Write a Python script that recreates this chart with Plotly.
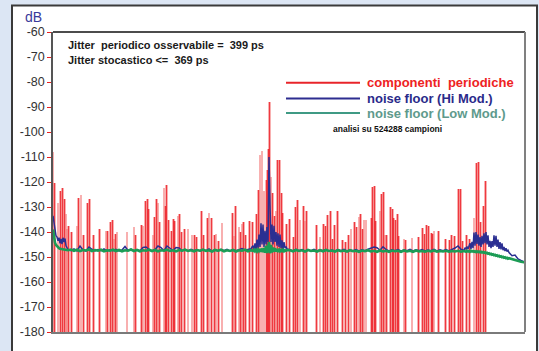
import plotly.graph_objects as go

# ---------------- data ----------------
y_tick_vals = [-60, -70, -80, -90, -100, -110, -120, -130, -140, -150, -160, -170, -180]
y_tick_labels = ["-60", "-70", "-80", "-90", "-100", "-110", "-120", "-130", "-140", "-150", "-160", "-170", "-180"]

# periodic components: frequency bin and level (dB)
comp_bins = [0.0, 1.7, 5.0, 7.3, 9.7, 11.7, 13.0, 14.0, 15.7, 18.3, 24.0, 25.7, 28.0, 30.7, 34.7, 36.7,
             40.7, 46.7, 53.0, 54.7, 57.7, 59.3, 61.0, 62.3, 64.0, 74.0, 81.0, 82.3, 88.3, 90.0, 92.7,
             94.7, 95.7, 100.0, 101.7, 103.3, 105.0, 106.3, 111.0, 112.3, 113.7, 115.7, 118.3, 120.3,
             121.7, 125.0, 126.7, 128.3, 131.3, 135.0, 139.0, 141.7, 143.5, 148.5,
             150.3, 154.3, 156.0, 158.7, 161.3, 163.0, 165.7, 169.0, 179.3, 181.0, 182.7, 186.0, 187.3,
             189.0, 190.7, 192.3, 196.3, 199.7, 203.7, 205.7, 207.0, 209.0, 211.0, 213.3, 214.3, 215.7,
             216.7, 218.0, 219.7, 221.7, 223.0, 224.7, 226.3, 228.3, 229.7, 233.7, 236.3, 240.3, 242.3,
             244.3, 247.0, 250.3, 252.0, 253.7, 263.7, 267.0, 270.3, 272.3, 274.3,
             277.7, 279.7, 281.3, 284.3, 289.7, 292.3, 295.3, 298.0, 301.3, 303.7, 306.0, 307.7, 309.7,
             311.0, 313.0, 318.7, 319.7, 321.7, 322.7, 327.0, 328.7, 330.3, 332.0, 333.7, 337.7, 339.3,
             340.7, 342.7, 344.3, 345.3, 351.0, 352.3, 359.0, 365.7, 369.3, 371.3, 373.7, 375.3, 378.3,
             379.7, 381.0, 385.7, 392.3, 396.3, 398.3, 401.3, 405.3, 407.3, 409.3, 413.7, 416.3, 421.0,
             423.3, 425.3, 427.5, 430.3, 432.7]
comp_levels = [-108.0, -120.5, -128.3, -123.7, -122.4, -126.9, -132.7, -138.6, -137.4, -140.0, -137.4,
               -126.3, -125.0, -141.3, -128.3, -126.7, -141.3, -138.6, -139.7, -139.4, -135.8, -135.0,
               -142.6, -140.7, -140.0, -140.0, -138.0, -141.3, -137.1, -137.4, -127.6, -126.7, -130.6,
               -141.3, -133.9, -126.7, -128.3, -136.1, -122.4, -129.6, -121.1, -135.0, -139.4, -134.8,
               -135.5, -133.5, -132.8, -140.0, -138.7, -138.7, -141.0, -141.3, -142.0, -131.5,
               -141.0, -134.2, -132.2, -134.2, -141.3, -140.7, -143.5, -136.5, -132.2, -141.7, -129.6,
               -138.0, -140.0, -136.7, -136.1, -141.3, -135.5, -136.1, -132.8, -123.1, -109.0, -107.7,
               -123.7, -119.2, -115.0, -106.8, -87.9, -117.9, -124.4, -133.5, -131.6, -111.1, -111.3,
               -124.4, -132.2, -136.7, -134.8, -142.0, -130.0, -127.2, -135.0, -129.6, -135.5, -131.6,
               -137.0, -142.0, -136.7, -137.7, -133.2,
               -131.6, -142.6, -137.1, -131.6, -143.3, -143.9, -141.3, -138.7, -136.1, -138.0, -133.9,
               -132.8, -138.7, -135.2, -135.2, -134.5, -121.8, -121.5, -135.5, -131.6, -124.6, -124.1,
               -141.3, -141.3, -130.0, -130.9, -134.2, -135.0, -132.6, -141.7, -142.9, -143.3, -142.3,
               -142.1, -138.2, -140.8, -137.1, -137.4, -140.4, -140.8, -139.5, -139.5, -142.9, -143.3,
               -141.3, -141.7, -122.8, -122.8, -143.4, -141.3, -142.6, -134.5, -112.4, -112.0, -136.0,
               -129.6, -119.4]

# noise floor sample bins
floor_bins = (list(range(0, 14)) + list(range(15, 199, 3)) + list(range(199, 235))
              + list(range(237, 412, 3)) + list(range(412, 457)) + [459, 462, 465, 468, 471, 472])

hi_mod_floor = [
    # bins 0-13
    -133.5, -137.0, -140.5, -141.5, -142.0, -143.5, -142.3, -144.5, -142.8, -144.8, -142.3, -144.0, -142.6, -145.5,
    # bins 15-198 step 3
    -147.0, -147.5, -146.8, -147.6, -145.6, -147.2, -147.6, -146.0, -146.9, -147.6,
    -147.0, -147.5, -146.8, -147.6, -147.1, -147.5, -146.9, -147.6, -147.2, -145.8,
    -147.4, -146.9, -147.6, -147.1, -147.5, -146.2, -146.0, -147.0, -147.6, -147.1,
    -145.6, -146.2, -147.5, -145.6, -146.5, -147.4, -146.2, -146.4, -147.5, -147.0,
    -147.6, -146.9, -147.5, -147.1, -147.6, -147.0, -147.5, -146.8, -147.6, -147.2,
    -147.6, -147.0, -147.5, -146.9, -147.6, -147.1, -147.5, -146.9, -146.6, -147.3,
    -146.9, -146.7,
    # bins 199-234
    -146.0, -145.5, -147.0, -144.5, -147.0, -143.0, -146.5, -141.0, -146.0, -136.5,
    -145.0, -137.0, -146.0, -139.5, -145.0, -138.0, -144.0, -110.0, -129.0, -144.0,
    -137.0, -145.0, -137.5, -144.0, -140.0, -145.5, -140.5, -146.0, -141.0, -146.5,
    -143.3, -147.0, -144.0, -146.5, -145.8, -146.8,
    # bins 237-411 step 3
    -147.1, -147.6, -146.9, -147.5, -147.0, -147.6, -147.2, -147.5, -146.9, -147.6,
    -147.1, -147.5, -147.0, -147.6, -147.2, -147.6, -147.0, -147.5, -146.9, -147.6,
    -147.2, -147.5, -147.0, -147.6, -147.1, -147.5, -146.9, -146.5, -146.0, -146.3,
    -147.3, -145.9, -147.0, -147.6, -147.1, -147.5, -147.0, -147.6, -147.2, -147.5,
    -146.9, -147.6, -147.1, -147.5, -147.0, -147.6, -147.2, -147.5, -146.9, -147.6,
    -147.1, -147.5, -147.0, -147.6, -147.1, -146.4, -145.6, -146.9, -147.4,
    # bins 412-456
    -146.3, -146.9, -145.8, -146.8, -145.5, -144.5, -146.8, -143.9, -146.5, -140.2,
    -145.5, -140.0, -144.8, -141.0, -145.5, -142.0, -146.0, -141.5, -145.0, -140.5,
    -144.5, -140.0, -145.0, -141.3, -146.0, -143.5, -146.5, -143.6, -146.0, -141.3,
    -145.5, -141.5, -146.0, -143.0, -146.8, -144.0, -147.0, -144.5, -147.3, -146.0,
    -147.6, -146.5, -147.8, -147.3, -148.2,
    # tail
    -149.5, -149.2, -150.8, -151.4, -152.0, -152.1]

low_mod_floor = [
    -139.0, -142.5, -144.3, -145.2, -145.8, -146.2, -146.5, -146.7, -146.8, -147.0, -146.9, -147.1, -147.0, -147.2,
    -147.3, -147.0, -147.5, -147.1, -147.6, -147.2, -147.4, -147.0, -147.6, -147.2,
    -147.5, -147.1, -147.7, -147.3, -147.5, -147.1, -147.6, -147.2, -147.7, -147.3,
    -147.5, -147.0, -147.6, -147.2, -147.7, -147.3, -147.5, -147.1, -147.6, -147.2,
    -147.7, -147.3, -147.5, -147.1, -147.6, -147.3, -147.7, -147.2, -147.5, -147.1,
    -147.6, -147.3, -147.7, -147.2, -147.5, -147.1, -147.6, -147.3, -147.8, -147.2,
    -147.5, -147.1, -147.7, -147.3, -147.6, -147.2, -147.8, -147.3, -147.5, -147.1,
    -147.7, -147.3,
    -147.3, -147.6, -147.1, -147.7, -147.2, -147.8, -147.0, -147.6, -146.8, -147.9,
    -146.6, -148.1, -146.4, -148.3, -145.5, -148.4, -146.0, -144.0, -148.5, -145.2,
    -148.2, -146.2, -147.9, -146.5, -147.8, -146.9, -147.6, -147.1, -147.7, -147.2,
    -147.6, -147.1, -147.7, -147.3, -147.5, -147.2,
    -147.3, -147.7, -147.2, -147.6, -147.3, -147.8, -147.2, -147.6, -147.4, -147.8,
    -147.3, -147.7, -147.2, -147.6, -147.4, -147.8, -147.3, -147.7, -147.4, -147.8,
    -147.3, -147.7, -147.5, -147.9, -147.4, -147.7, -147.3, -147.8, -147.5, -147.9,
    -147.4, -147.8, -147.5, -147.9, -147.4, -147.7, -147.5, -147.9, -147.4, -147.8,
    -147.5, -147.9, -147.4, -147.8, -147.6, -147.9, -147.5, -147.8, -147.4, -147.9,
    -147.6, -147.8, -147.5, -147.9, -147.6, -147.8, -147.5, -147.9, -147.6,
    -147.6, -147.9, -147.5, -147.8, -147.6, -147.9, -147.5, -147.8, -147.6, -147.9,
    -147.7, -148.0, -147.7, -148.0, -147.8, -148.1, -147.9, -148.2, -148.0, -148.3,
    -148.1, -148.5, -148.3, -148.7, -148.5, -148.9, -148.7, -149.1, -148.9, -149.3,
    -149.1, -149.5, -149.3, -149.7, -149.5, -149.9, -149.7, -150.1, -149.9, -150.3,
    -150.1, -150.5, -150.3, -150.7, -150.5,
    -150.9, -151.3, -151.6, -151.9, -152.1, -152.2]

legend_labels = ["componenti  periodiche", "noise floor (Hi Mod.)", "noise floor (Low Mod.)"]
info_lines = ["Jitter  periodico osservabile =  399 ps", "Jitter stocastico <=  369 ps"]
samples_note = "analisi su 524288 campioni"
unit_label = "dB"

# ---------------- figure ----------------
W, H = 539, 351
L, R, T, B = 53, 525, 32, 339
Y_BOTTOM = -180


def px(x):
    return (x - L) / (R - L)


def py(y):
    return (B - y) / (B - T)


fig = go.Figure()

heights = [v - Y_BOTTOM for v in comp_levels]
fig.add_trace(go.Bar(x=comp_bins, y=heights, base=Y_BOTTOM, width=2.7,
                     marker=dict(color="rgba(242,112,112,0.55)", line=dict(width=0)),
                     showlegend=False, hoverinfo="skip"))
fig.add_trace(go.Bar(x=comp_bins, y=heights, base=Y_BOTTOM, width=0.9,
                     marker=dict(color="rgba(236,28,36,0.8)", line=dict(width=0)),
                     showlegend=False, hoverinfo="skip"))
fig.add_trace(go.Scatter(x=floor_bins, y=hi_mod_floor, mode="lines",
                         line=dict(color="#2b2f92", width=1.5), showlegend=False, hoverinfo="skip"))
fig.add_trace(go.Scatter(x=floor_bins, y=low_mod_floor, mode="lines",
                         line=dict(color="#1c9c55", width=2.6), showlegend=False, hoverinfo="skip"))

shapes = [
    # outer white panel
    dict(type="rect", xref="paper", yref="paper", x0=px(12), x1=px(537), y0=py(370), y1=py(5),
         fillcolor="white", line=dict(color="#3a3a3a", width=2), layer="below"),
    # top frame line
    dict(type="line", xref="paper", yref="paper", x0=0, x1=1, y0=1, y1=1,
         line=dict(color="#111111", width=1.5)),
    # right frame line
    dict(type="line", xref="paper", yref="paper", x0=1, x1=1, y0=0, y1=1,
         line=dict(color="#808080", width=2)),
]
legend_colors = ["#e8242a", "#2d2d90", "#3f9a84"]
text_colors = ["#ee2222", "#2a2a8a", "#5e9a8c"]
legend_y = [84, 100, 115]
for c, yy in zip(legend_colors, legend_y):
    shapes.append(dict(type="line", xref="paper", yref="paper", x0=px(286), x1=px(360),
                       y0=py(yy), y1=py(yy), line=dict(color=c, width=2)))

annotations = []
for txt, c, yy in zip(legend_labels, text_colors, legend_y):
    annotations.append(dict(xref="paper", yref="paper", x=px(365), y=py(yy), xanchor="left",
                            yanchor="middle", showarrow=False,
                            text="<b>" + txt.replace("  ", " \u00a0") + "</b>",
                            font=dict(size=13, color=c)))
for txt, yy in zip(info_lines, [45, 61]):
    annotations.append(dict(xref="paper", yref="paper", x=px(66), y=py(yy), xanchor="left",
                            yanchor="middle", showarrow=False,
                            text="<b>" + txt.replace("  ", " \u00a0") + "</b>",
                            font=dict(size=11, color="#1a1a1a")))
annotations.append(dict(xref="paper", yref="paper", x=px(331), y=py(131), xanchor="left",
                        yanchor="middle", showarrow=False, text="<b>" + samples_note + "</b>",
                        font=dict(size=8.5, color="#111111")))
annotations.append(dict(xref="paper", yref="paper", x=px(33), y=py(17), xanchor="center",
                        yanchor="middle", showarrow=False, text=unit_label,
                        font=dict(size=14, color="#3a3a9a")))

fig.update_layout(
    width=W, height=H, autosize=False,
    margin=dict(l=L, r=W - R, t=T, b=H - B, pad=0),
    paper_bgcolor="#dce6f4", plot_bgcolor="rgba(0,0,0,0)",
    font=dict(family="Liberation Sans, Arial, sans-serif", color="#333333"),
    barmode="overlay", bargap=0,
    shapes=shapes, annotations=annotations,
    xaxis=dict(range=[0, R - L], showgrid=False, zeroline=False, showticklabels=False,
               ticks="", showline=True, linecolor="#7a7a7a", linewidth=2, fixedrange=True),
    yaxis=dict(range=[-180, -60], tickvals=y_tick_vals, ticktext=y_tick_labels,
               ticks="outside", tickcolor="#e82020", ticklen=4, tickwidth=1,
               showgrid=False, zeroline=False, showline=True, linecolor="#555555", linewidth=1.5,
               tickfont=dict(size=12.5, color="#333333"), fixedrange=True),
)

fig.write_html("out.html")
